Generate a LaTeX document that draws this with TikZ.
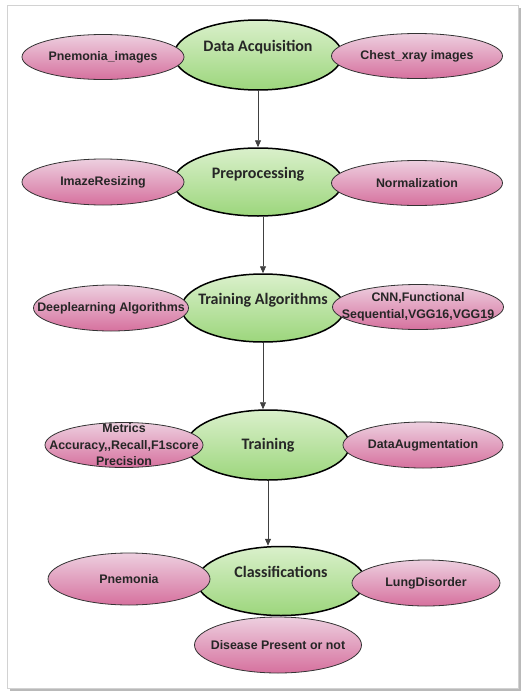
\documentclass[tikz,border=0pt]{standalone}
\usepackage{fontspec}
\setmainfont{Liberation Sans}
\newfontfamily\calfont{Carlito}
\usetikzlibrary{arrows.meta, shapes.geometric}
\definecolor{pinkT}{HTML}{EDCFDF}
\definecolor{pinkB}{HTML}{D6719E}
\definecolor{greenT}{HTML}{DAF0CB}
\definecolor{greenB}{HTML}{9CD67C}
\tikzset{
  side/.style={ellipse, draw=black!80, line width=0.8pt, top color=pinkT, bottom color=pinkB, inner xsep=-60pt, inner ysep=-20pt, align=center, text=black!85, font=\fontsize{12.4}{16.5}\selectfont\bfseries},
  stage/.style={ellipse, draw=black, line width=1.5pt, top color=greenT, bottom color=greenB, inner xsep=-60pt, inner ysep=-20pt, text=black!85, font=\calfont\fontsize{16}{20}\selectfont\bfseries, text height=12pt, text depth=20pt},
  arr/.style={-{Triangle[length=7pt,width=6pt]}, draw=black!75, line width=0.8pt}
}

\begin{document}
\begin{tikzpicture}[x=1pt, y=-1pt]
\useasboundingbox (0,0) rectangle (527,699);
\fill[gray!55] (10,8) rectangle (521,691); %shadow
\draw[fill=white, draw=gray!35] (7,5) rectangle (518,688); %frame

% main stages
\node[stage, minimum width=168pt, minimum height=70pt] (da) at (258,55) {Data Acquisition};
\node[stage, minimum width=169pt, minimum height=68pt] (pre) at (258,182) {Preprocessing};
\node[stage, minimum width=163pt, minimum height=68pt] (ta) at (263,308) {Training Algorithms};
\node[stage, minimum width=163pt, minimum height=70pt, text depth=4pt] (tr) at (268,445) {Training};
\node[stage, minimum width=168pt, minimum height=69pt] (cls) at (281,581) {Classifications};

% left side
\node[side, minimum width=162pt, minimum height=45pt] (pneu) at (103,57) {Pnemonia\_images};
\node[side, minimum width=162pt, minimum height=46pt] (resize) at (103,182) {ImazeResizing};
\node[side, minimum width=155pt, minimum height=46pt] (dl) at (111,308) {Deeplearning Algorithms};
\node[side, minimum width=158pt, minimum height=45pt] (metr) at (124,445) {Metrics\\Accuracy,{},Recall,F1score\\Precision};
\node[side, minimum width=162pt, minimum height=52pt] (pnm) at (129,579) {Pnemonia};

% right side
\node[side, minimum width=171pt, minimum height=45pt] (chest) at (417,56) {Chest\_xray images};
\node[side, minimum width=171pt, minimum height=45pt] (norm) at (417,183) {Normalization};
\node[side, minimum width=171pt, minimum height=45pt] (cnn) at (418,307) {CNN,Functional\\Sequential,VGG16,VGG19};
\node[side, minimum width=160pt, minimum height=46pt] (aug) at (423,445) {DataAugmentation};
\node[side, minimum width=148pt, minimum height=46pt] (lung) at (426,583) {LungDisorder};
\node[side, minimum width=167pt, minimum height=56pt] (dis) at (278,645) {Disease Present or not};

\draw[arr] (da) -- (pre);
\draw[arr] (ta.north |- pre.south) -- (ta.north);
\draw[arr] (ta.south) -- (ta.south |- tr.north);
\draw[arr] (tr.south) -- (tr.south |- cls.north);
\end{tikzpicture}
\end{document}
